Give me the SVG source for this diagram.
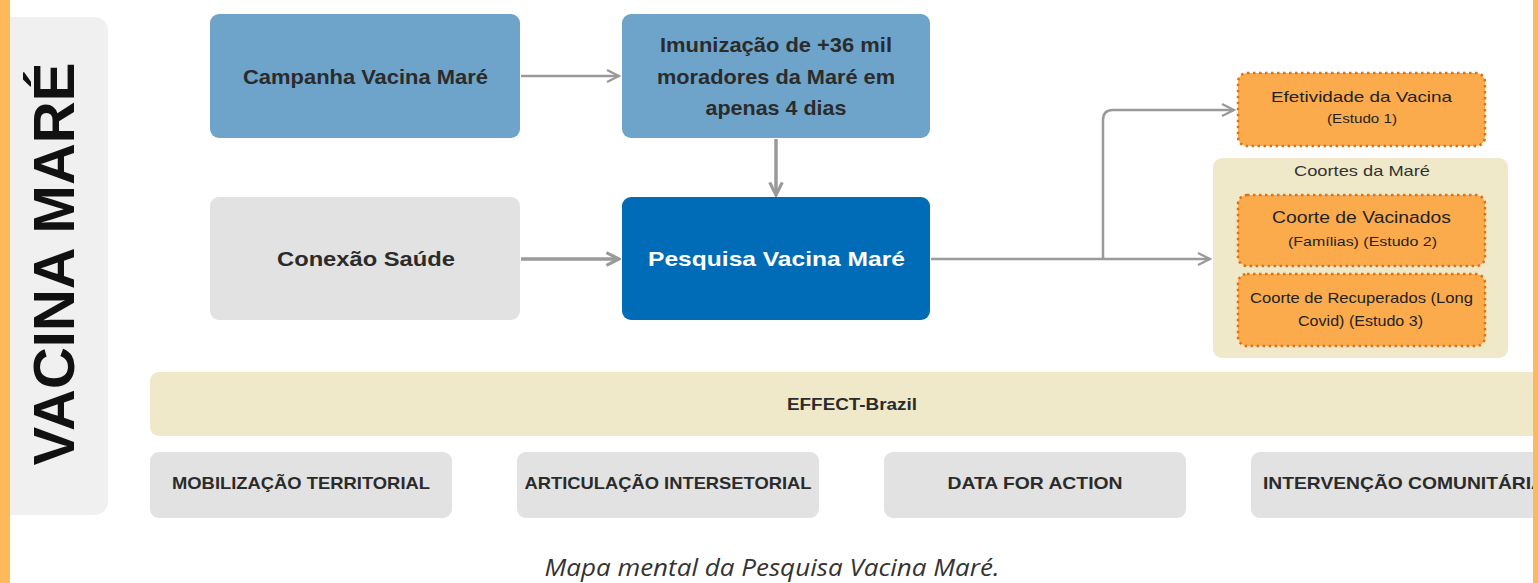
<svg xmlns="http://www.w3.org/2000/svg" width="1538" height="583" viewBox="0 0 1538 583">
<defs>
<marker id="chev" viewBox="0 0 10 10" refX="9" refY="5" markerWidth="4.5" markerHeight="4.5" orient="auto" markerUnits="strokeWidth">
<path d="M1,1 L9,5 L1,9" fill="none" stroke="#999" stroke-width="2"/>
</marker>
<marker id="chevT" viewBox="0 0 10 10" refX="9" refY="5" markerWidth="6" markerHeight="6" orient="auto" markerUnits="strokeWidth">
<path d="M1,1 L9,5 L1,9" fill="none" stroke="#999" stroke-width="1.5"/>
</marker>
</defs>
<style>
.t{font-family:"Liberation Sans",Arial,sans-serif;font-weight:bold;text-anchor:middle;fill:#2b2b2b}
.big{font-size:21px}
.sm{font-size:15px;font-weight:normal;fill:#222}
.lbl{font-size:17px}
.blue{fill:#6ea4ca}
.gray{fill:#e2e2e2}
.orange{fill:#fbab4c;stroke:#e2700f;stroke-width:2.5;stroke-dasharray:2.5 3.5}
.conn{fill:none;stroke:#9a9a9a}
</style>
<rect width="1538" height="583" fill="#ffffff"/>
<g id="frame">
<rect x="0" y="0" width="10" height="583" fill="#fdb95a"/>
<path d="M10,228 Q18,260 10,292 Z" fill="#fdb95a"/>
</g>
<g id="title-panel">
<rect x="10" y="17" width="98" height="498" rx="14" fill="#f0f0f0"/>
<rect x="10" y="17" width="20" height="498" fill="#f0f0f0"/>
<text transform="translate(74,264) rotate(-90)" style="font-family:'Liberation Sans',Arial,sans-serif;font-weight:bold;font-size:58px;text-anchor:middle;fill:#111">VACINA MARÉ</text>
</g>
<g id="connectors">
<line x1="521" y1="76" x2="619" y2="76" class="conn" stroke-width="2.5" marker-end="url(#chevT)"/>
<line x1="776" y1="139" x2="776" y2="195" class="conn" stroke-width="3.5" marker-end="url(#chev)"/>
<line x1="521" y1="259" x2="619" y2="259" class="conn" stroke-width="3.5" marker-end="url(#chev)"/>
<line x1="931" y1="259" x2="1210" y2="259" class="conn" stroke-width="2.5" marker-end="url(#chevT)"/>
<path d="M1103,259 V120 Q1103,110 1113,110 H1234" class="conn" stroke-width="2.5" marker-end="url(#chevT)"/>
</g>
<g id="campanha">
<rect x="210" y="14" width="310" height="124" rx="9" class="blue"/>
<text x="365.5" y="84" class="t big" textLength="245" lengthAdjust="spacingAndGlyphs">Campanha Vacina Maré</text>
</g>
<g id="imunizacao">
<rect x="622" y="14" width="308" height="124" rx="9" class="blue"/>
<text x="776" y="52" class="t big" textLength="232" lengthAdjust="spacingAndGlyphs">Imunização de +36 mil</text>
<text x="776" y="84" class="t big" textLength="238" lengthAdjust="spacingAndGlyphs">moradores da Maré em</text>
<text x="776" y="115" class="t big" textLength="141" lengthAdjust="spacingAndGlyphs">apenas 4 dias</text>
</g>
<g id="conexao">
<rect x="210" y="197" width="310" height="123" rx="9" class="gray"/>
<text x="366" y="266" class="t big" textLength="178" lengthAdjust="spacingAndGlyphs">Conexão Saúde</text>
</g>
<g id="pesquisa">
<rect x="622" y="197" width="308" height="123" rx="9" fill="#006bb6"/>
<text x="776.5" y="266" class="t big" style="fill:#ffffff" textLength="257" lengthAdjust="spacingAndGlyphs">Pesquisa Vacina Maré</text>
</g>
<g id="efetividade">
<rect x="1238" y="73" width="247" height="73" rx="9" class="orange"/>
<text x="1361.5" y="102" class="t sm" textLength="181" lengthAdjust="spacingAndGlyphs">Efetividade da Vacina</text>
<text x="1362" y="123" class="t sm" style="font-size:13px" textLength="70" lengthAdjust="spacingAndGlyphs">(Estudo 1)</text>
</g>
<g id="coortes">
<rect x="1213" y="158" width="295" height="200" rx="9" fill="#efe9c9"/>
<text x="1362" y="176" class="t sm" style="fill:#333" textLength="136" lengthAdjust="spacingAndGlyphs">Coortes da Maré</text>
</g>
<g id="coorte-vacinados">
<rect x="1238" y="195" width="247" height="71" rx="9" class="orange"/>
<text x="1361.5" y="223" class="t sm" style="font-size:16px" textLength="179" lengthAdjust="spacingAndGlyphs">Coorte de Vacinados</text>
<text x="1362.5" y="246" class="t sm" style="font-size:13px" textLength="149" lengthAdjust="spacingAndGlyphs">(Famílias) (Estudo 2)</text>
</g>
<g id="coorte-recuperados">
<rect x="1238" y="274" width="247" height="72" rx="9" class="orange"/>
<text x="1361.5" y="303" class="t sm" style="font-size:14.5px" textLength="223" lengthAdjust="spacingAndGlyphs">Coorte de Recuperados (Long</text>
<text x="1360.5" y="326" class="t sm" style="font-size:14.5px" textLength="125" lengthAdjust="spacingAndGlyphs">Covid) (Estudo 3)</text>
</g>
<g id="effect-brazil">
<rect x="150" y="372" width="1400" height="64" rx="9" fill="#efe9c9"/>
<text x="852" y="410" class="t" style="font-size:16px" textLength="130" lengthAdjust="spacingAndGlyphs">EFFECT-Brazil</text>
</g>
<g id="mobilizacao">
<rect x="150" y="452" width="302" height="66" rx="9" class="gray"/>
<text x="301" y="489" class="t lbl" textLength="258" lengthAdjust="spacingAndGlyphs">MOBILIZAÇÃO TERRITORIAL</text>
</g>
<g id="articulacao">
<rect x="517" y="452" width="302" height="66" rx="9" class="gray"/>
<text x="668" y="489" class="t lbl" textLength="287" lengthAdjust="spacingAndGlyphs">ARTICULAÇÃO INTERSETORIAL</text>
</g>
<g id="data-for-action">
<rect x="884" y="452" width="302" height="66" rx="9" class="gray"/>
<text x="1035" y="489" class="t lbl" textLength="175" lengthAdjust="spacingAndGlyphs">DATA FOR ACTION</text>
</g>
<g id="intervencao">
<rect x="1251" y="452" width="302" height="66" rx="9" class="gray"/>
<text x="1263" y="489" class="t lbl" style="text-anchor:start" textLength="282" lengthAdjust="spacingAndGlyphs">INTERVENÇÃO COMUNITÁRIA</text>
</g>
<rect x="1533" y="0" width="5" height="583" fill="#fdb95a"/>
<text x="772" y="576" style="font-family:'Open Sans','Liberation Sans',sans-serif;font-style:italic;font-size:23px;text-anchor:middle;fill:#333" textLength="455" lengthAdjust="spacingAndGlyphs">Mapa mental da Pesquisa Vacina Maré.</text>
</svg>
